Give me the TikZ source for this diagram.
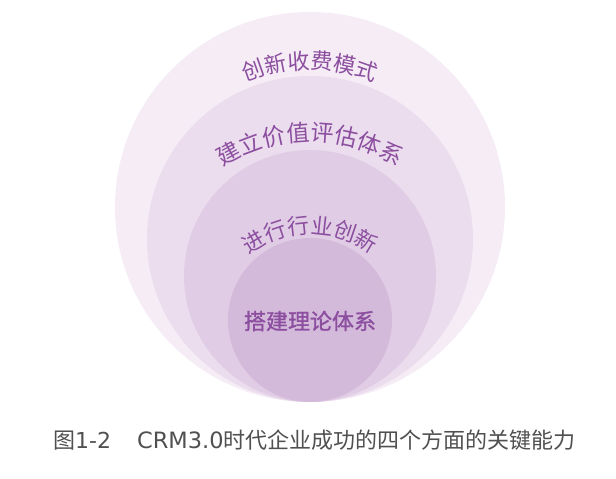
\documentclass[tikz,border=0pt]{standalone}
\usepackage{fontspec}
\usetikzlibrary{decorations.text}
\newfontfamily\cjk{Noto Sans CJK SC}
\newfontfamily\cjkbold[FakeBold=1.2]{Noto Sans CJK SC}
\newfontfamily\latin{DejaVu Sans}
\definecolor{ringa}{HTML}{F5ECF6}
\definecolor{ringb}{HTML}{EBDDEE}
\definecolor{ringc}{HTML}{E0CDE5}
\definecolor{ringd}{HTML}{D4BADA}
\definecolor{labelpurple}{HTML}{8C4E9F}
\definecolor{captiongray}{HTML}{505050}

\begin{document}
\begin{tikzpicture}[x=1pt, y=1pt,
  ring/.style={circle, inner sep=0pt, draw=none},
  arclabel/.style={decorate, decoration={text along path, text align=center, text color=labelpurple}},
  corelabel/.style={font=\cjkbold\fontsize{22}{26}\selectfont, text=labelpurple, inner sep=0pt},
  caption/.style={font=\cjk\fontsize{22}{25}\selectfont, text=captiongray, anchor=west, inner sep=0pt}
]
\useasboundingbox[fill=white] (0,0) rectangle (616,479);
\node[ring, fill=ringa, minimum size=390pt] (fee) at (310,272) {};
\node[ring, fill=ringb, minimum size=326pt] (value) at (310,240) {};
\node[ring, fill=ringc, minimum size=252pt] (industry) at (310,203) {};
\node[ring, fill=ringd, minimum size=164pt] (theory) at (310,159) {};
\path[arclabel, decoration={text={|\cjk\fontsize{22}{26}\selectfont|创新收费模式}}]
  (310,248) ++(150:162) arc[start angle=150, end angle=30, radius=162];
\path[arclabel, decoration={text={|\cjk\fontsize{23}{27}\selectfont|建立价值评估体系}}]
  (310,178) ++(150:160) arc[start angle=150, end angle=30, radius=160];
\path[arclabel, decoration={text={|\cjk\fontsize{22}{26}\selectfont|进行行业创新}}]
  (310,144) ++(160:101) arc[start angle=160, end angle=20, radius=101];
\node[corelabel] (core) at (310,158) {搭建理论体系};
\node[caption] (title) at (53,39) {图{\latin\fontsize{22}{25}\selectfont 1-2}\hspace{26pt}{\latin\fontsize{22.5}{25}\selectfont CRM3.0}时代企业成功的四个方面的关键能力};
\end{tikzpicture}
\end{document}
